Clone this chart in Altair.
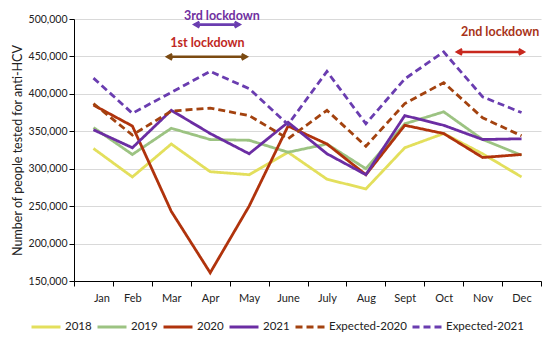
import altair as alt
import pandas as pd

months = ["Jan", "Feb", "Mar", "Apr", "May", "June", "July", "Aug", "Sept", "Oct", "Nov", "Dec"]

s2018 = [327000, 289000, 333000, 296000, 292000, 322000, 286000, 273000, 328000, 347000, 320000, 289000]
s2019 = [355000, 319000, 354000, 339000, 338000, 322000, 333000, 300000, 360000, 376000, 339000, 318000]
s2020 = [385000, 357000, 243000, 161000, 250000, 357000, 333000, 292000, 358000, 347000, 315000, 319000]
s2021 = [352000, 328000, 378000, 347000, 320000, 362000, 320000, 292000, 371000, 358000, 339000, 340000]
exp2020 = [387000, 345000, 377000, 381000, 371000, 340000, 378000, 330000, 387000, 415000, 368000, 344000]
exp2021 = [421000, 374000, 402000, 430000, 407000, 359000, 430000, 360000, 420000, 456000, 396000, 375000]

series_names = ["2018", "2019", "2020", "2021", "Expected-2020", "Expected-2021"]
series_values = [s2018, s2019, s2020, s2021, exp2020, exp2021]
series_colors = ["#E3DF5C", "#9CC382", "#B0330C", "#6B2DA3", "#A3420F", "#6A3DB0"]
series_dash = [[1, 0], [1, 0], [1, 0], [1, 0], [7, 4], [7, 4]]

# lockdown annotations (month index positions, value positions)
arrow_labels = ["3rd lockdown", "1st lockdown", "2nd lockdown"]
arrow_start = [2.6, 1.9, 9.35]
arrow_end = [3.75, 3.93, 11.05]
arrow_y = [492500, 449500, 456000]
arrow_colors = ["#6A3DB0", "#7B4A12", "#C8281E"]
text_x = [3.3, 2.93, 10.45]
text_y = [504500, 468000, 482000]
text_colors = ["#7030A0", "#C0281E", "#A8341A"]

rows = []
for name, vals in zip(series_names, series_values):
    for i, v in enumerate(vals):
        rows.append({"series": name, "m": i, "value": v})
df = pd.DataFrame(rows)

ann = pd.DataFrame({
    "label": arrow_labels, "x1": arrow_start, "x2": arrow_end, "y": arrow_y,
    "acol": arrow_colors, "tx": text_x, "ty": text_y, "tcol": text_colors,
})

FONT = "Lato"
month_expr = "[" + ",".join("'" + m + "'" for m in months) + "]"
Y_TITLE = "Number of people tested for anti-HCV"

xscale = alt.Scale(domain=[-0.5, 11.5], nice=False, zero=False)
yscale = alt.Scale(domain=[150000, 500000], nice=False, zero=False)

x_axis = alt.Axis(
    values=[i - 0.5 for i in range(13)],
    labelExpr=month_expr + "[datum.value + 0.5] || ''",
    labelOffset=19.4, grid=False, title=None, domainColor="#000000",
    tickColor="#000000", tickSize=5, labelFont=FONT, labelFontSize=11,
    labelColor="#222222", labelPadding=6)
y_axis = alt.Axis(
    values=list(range(150000, 500001, 50000)),
    labelExpr="format(datum.value, ',')",
    title=Y_TITLE, titleFont=FONT,
    titleFontSize=12.5, titleFontWeight="normal", titleColor="#222222",
    titlePadding=4, labelFont=FONT, labelFontSize=10.5, labelColor="#222222",
    domainColor="#000000", tickColor="#000000", tickSize=5, labelPadding=2,
    gridColor="#D9D9D9", gridWidth=1.2)

legend_kw = dict(title=None, orient="none", direction="horizontal",
                 columns=6, legendX=-44, legendY=292,
                 symbolType="stroke", symbolSize=841,
                 symbolStrokeWidth=3, labelFont=FONT,
                 labelFontSize=11.5, labelColor="#222222",
                 columnPadding=-1, labelOffset=3)

lines = alt.Chart(df).mark_line(strokeWidth=2.8).encode(
    x=alt.X("m:Q", scale=xscale, axis=x_axis, title=None),
    y=alt.Y("value:Q", scale=yscale, axis=y_axis, title=Y_TITLE),
    color=alt.Color("series:N", scale=alt.Scale(domain=series_names, range=series_colors),
                    legend=alt.Legend(**legend_kw)),
    strokeDash=alt.StrokeDash("series:N", scale=alt.Scale(domain=series_names, range=series_dash),
                              legend=alt.Legend(**legend_kw)),
    order="m:Q",
)


def X(field):
    return alt.X(field, scale=xscale, axis=x_axis, title=None)


def Y(field):
    return alt.Y(field, scale=yscale, axis=y_axis, title=Y_TITLE)


base = alt.Chart(ann)
rules = base.mark_rule(strokeWidth=2.6).encode(
    x=X("x1:Q"), x2="x2:Q", y=Y("y:Q"),
    color=alt.Color("acol:N", scale=None))
left_heads = base.mark_point(shape="M1.6,-0.9L0,0L1.6,0.9", filled=False, strokeWidth=2.6,
                             size=36, opacity=1).encode(
    x=X("x1:Q"), y=Y("y:Q"), color=alt.Color("acol:N", scale=None))
right_heads = base.mark_point(shape="M-1.6,-0.9L0,0L-1.6,0.9", filled=False, strokeWidth=2.6,
                              size=36, opacity=1).encode(
    x=X("x2:Q"), y=Y("y:Q"), color=alt.Color("acol:N", scale=None))
texts = base.mark_text(font=FONT, fontSize=12.5, fontWeight="bold").encode(
    x=X("tx:Q"), y=Y("ty:Q"),
    text="label:N", color=alt.Color("tcol:N", scale=None))

chart = alt.layer(lines, rules, left_heads, right_heads, texts).properties(
    width=467, height=262,
    autosize=alt.AutoSizeParams(type="none"),
    padding={"left": 66, "top": 11, "right": 1, "bottom": 55},
    background="white",
).configure_view(stroke=None)

chart.save("out.html", embed_options={"renderer": "svg", "actions": False})
